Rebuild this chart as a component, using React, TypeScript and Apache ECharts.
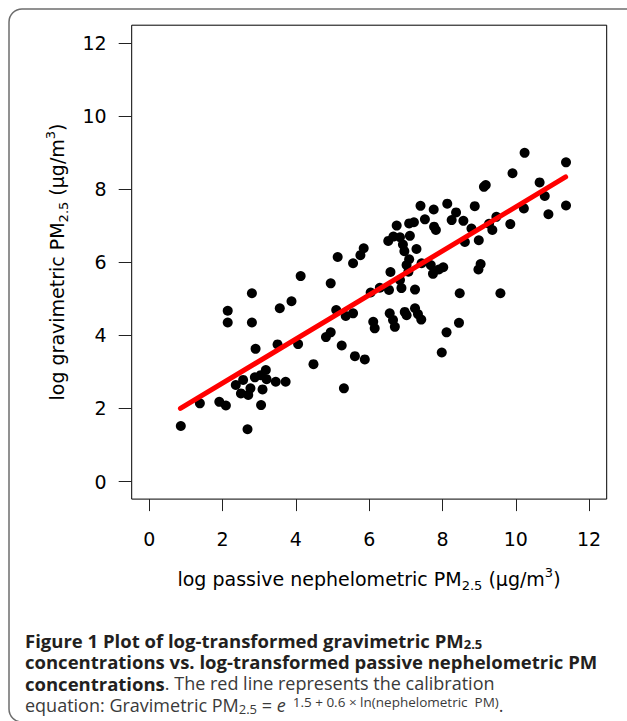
import React, { useEffect, useRef } from "react";
import * as echarts from "echarts";

const xTicks = [0, 2, 4, 6, 8, 10, 12];
const yTicks = [0, 2, 4, 6, 8, 10, 12];

// log passive nephelometric PM2.5
const nephX = [
  0.86, 1.38, 1.91, 2.09, 2.14, 2.14, 2.8, 2.8, 2.9, 2.68, 3.05, 3.09, 2.36, 2.56, 2.5, 2.7, 2.76, 2.88, 3.04, 3.18,
  3.2, 3.45, 3.72, 3.5, 3.56, 3.88, 4.13, 4.06, 4.48, 4.95, 5.14, 5.1, 5.36, 5.56, 5.56, 5.76, 5.85, 4.82, 4.95, 5.25,
  5.61, 5.88, 5.31, 6.11, 6.15, 6.04, 6.29, 6.54, 6.52, 6.58, 6.56, 6.65, 6.7, 6.66, 6.75, 6.84, 6.92, 6.96, 7.09, 7.22,
  7.11, 7.29, 7.09, 7.02, 7.07, 7.43, 7.68, 7.74, 7.9, 8.02, 6.84, 6.88, 7.25, 6.97, 7.02, 7.25, 7.33, 7.42, 8.11, 7.98,
  8.47, 8.45, 9.58, 7.4, 7.76, 8.13, 8.37, 7.52, 7.77, 7.82, 8.25, 8.57, 8.88, 8.79, 8.61, 8.99, 9.04, 8.98, 9.13, 9.18,
  9.27, 9.36, 9.47, 9.91, 9.85, 10.24, 10.22, 10.65, 10.79, 10.89, 11.37, 11.37,
];
// log gravimetric PM2.5
const gravY = [
  1.52, 2.14, 2.18, 2.08, 4.67, 4.35, 5.15, 4.35, 3.63, 1.43, 2.09, 2.52, 2.64, 2.78, 2.41, 2.37, 2.55, 2.85, 2.91, 3.05,
  2.8, 2.73, 2.73, 3.75, 4.74, 4.93, 5.62, 3.76, 3.21, 5.42, 6.14, 4.69, 4.53, 4.6, 5.97, 6.19, 6.38, 3.95, 4.08, 3.72,
  3.43, 3.34, 2.55, 4.37, 4.19, 5.17, 5.3, 5.24, 6.58, 5.73, 4.6, 4.42, 4.23, 6.7, 7.0, 6.68, 6.48, 6.3, 7.06, 7.09,
  6.72, 6.36, 6.08, 5.92, 5.74, 5.97, 5.92, 5.68, 5.8, 5.86, 5.51, 5.29, 5.25, 4.64, 4.55, 4.74, 4.58, 4.43, 4.08, 3.53,
  5.15, 4.34, 5.15, 7.54, 7.44, 7.6, 7.36, 7.17, 6.97, 6.88, 7.15, 7.13, 7.53, 6.92, 6.55, 6.6, 5.95, 5.8, 8.06, 8.11,
  7.05, 6.88, 7.24, 8.43, 7.04, 8.99, 7.47, 8.18, 7.81, 7.31, 8.73, 7.55,
];

// calibration line end points
const fitX = [0.85, 11.36];
const fitY = [2.0, 8.33];

const AXIS_FONT = "'DejaVu Sans', 'Liberation Sans', sans-serif";
const CAP_FONT = "'Open Sans', 'Noto Sans', sans-serif";

export default function App() {
  const ref = useRef<HTMLDivElement>(null);

  useEffect(() => {
    if (!ref.current) return;
    const chart = echarts.init(ref.current, undefined, { renderer: "svg" });

    const titleRich = {
      sub: { fontSize: 13, lineHeight: 13, verticalAlign: "bottom", fontFamily: AXIS_FONT, fill: "#000" },
      sup: { fontSize: 13, lineHeight: 13, verticalAlign: "top", fontFamily: AXIS_FONT, fill: "#000" },
    };

    const capBase = { fontFamily: CAP_FONT, lineHeight: 20 };
    const capRich: any = {
      b: { ...capBase, fontSize: 18.5, fontWeight: 700, fill: "#231f20" },
      bs: { fontFamily: CAP_FONT, fontSize: 13, lineHeight: 9, fontWeight: 700, verticalAlign: "bottom", fill: "#231f20" },
      r: { ...capBase, fontSize: 18, fontWeight: 400, fill: "#3a3a3a" },
      rs: { fontFamily: CAP_FONT, fontSize: 13, lineHeight: 9, fontWeight: 400, verticalAlign: "bottom", fill: "#3a3a3a" },
      it: { ...capBase, fontSize: 18, fontWeight: 400, fontStyle: "italic", fill: "#3a3a3a" },
      sp: { fontFamily: CAP_FONT, fontSize: 13.5, lineHeight: 11, fontWeight: 400, verticalAlign: "top", fill: "#3a3a3a" },
    };

    const option: any = {
      animation: false,
      backgroundColor: "#ffffff",
      grid: {
        left: 131.7,
        top: 25.2,
        width: 475,
        height: 473.9,
        show: true,
        borderColor: "#000",
        borderWidth: 1,
        backgroundColor: "transparent",
        containLabel: false,
      },
      xAxis: {
        type: "value",
        min: -0.48,
        max: 12.48,
        axisLine: { show: false, onZero: false },
        splitLine: { show: false },
        axisTick: { show: true, inside: false, length: 12, customValues: xTicks, lineStyle: { color: "#222", width: 1 } },
        axisLabel: { customValues: xTicks, fontSize: 19, fontFamily: AXIS_FONT, color: "#000", margin: 30 },
      },
      yAxis: {
        type: "value",
        min: -0.48,
        max: 12.48,
        axisLine: { show: false, onZero: false },
        splitLine: { show: false },
        axisTick: { show: true, inside: false, length: 13, customValues: yTicks, lineStyle: { color: "#222", width: 1 } },
        axisLabel: { customValues: yTicks, fontSize: 19, fontFamily: AXIS_FONT, color: "#000", margin: 25 },
      },
      series: [
        {
          type: "scatter",
          data: nephX.map((x, i) => [x, gravY[i]]),
          symbol: "circle",
          symbolSize: 10,
          itemStyle: { color: "#000", opacity: 1 },
          z: 2,
        },
        {
          type: "line",
          data: fitX.map((x, i) => [x, fitY[i]]),
          showSymbol: false,
          symbol: "none",
          lineStyle: { color: "#ff0000", width: 5, cap: "round" },
          z: 3,
        },
      ],
      graphic: [
        {
          type: "rect",
          shape: { x: 9, y: 9, width: 640, height: 713, r: 13 },
          style: { fill: "none", stroke: "#6d6d6d", lineWidth: 1.5 },
          z: -1,
        },
        {
          type: "text",
          x: 369,
          y: 579,
          style: {
            text: "log passive nephelometric PM{sub|2.5} (µg/m{sup|3})",
            fontSize: 19,
            lineHeight: 26,
            fontFamily: AXIS_FONT,
            fill: "#000",
            align: "center",
            verticalAlign: "middle",
            rich: titleRich,
          },
        },
        {
          type: "text",
          x: 57,
          y: 262,
          rotation: Math.PI / 2,
          style: {
            text: "log gravimetric PM{sub|2.5} (µg/m{sup|3})",
            fontSize: 19,
            lineHeight: 26,
            fontFamily: AXIS_FONT,
            fill: "#000",
            align: "center",
            verticalAlign: "middle",
            rich: titleRich,
          },
        },
        {
          type: "text",
          x: 25,
          y: 640,
          style: {
            text: "{b|Figure 1 Plot of log-transformed gravimetric PM}{bs|2.5}",
            align: "left",
            verticalAlign: "middle",
            rich: capRich,
          },
        },
        {
          type: "text",
          x: 25,
          y: 661.5,
          style: {
            text: "{b|concentrations vs. log-transformed passive nephelometric PM}",
            align: "left",
            verticalAlign: "middle",
            rich: capRich,
          },
        },
        {
          type: "text",
          x: 25,
          y: 683,
          style: {
            text: "{b|concentrations}{r|. The red line represents the calibration}",
            align: "left",
            verticalAlign: "middle",
            rich: capRich,
          },
        },
        {
          type: "text",
          x: 25,
          y: 705,
          style: {
            text: "{r|equation: Gravimetric PM}{rs|2.5}{r| = }{it|e}{sp|  1.5 + 0.6 × ln(nephelometric  PM)}{r|.}",
            align: "left",
            verticalAlign: "middle",
            rich: capRich,
          },
        },
      ],
    };

    chart.setOption(option);
    return () => chart.dispose();
  }, []);

  return (
    <div
      ref={ref}
      style={{ position: "fixed", left: 0, top: 0, width: 627, height: 721, background: "#fff" }}
    />
  );
}
